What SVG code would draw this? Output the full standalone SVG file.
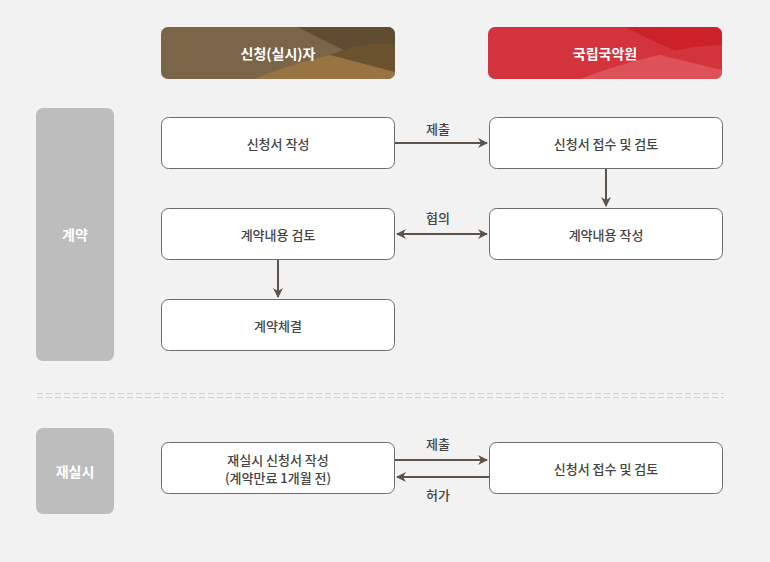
<svg xmlns="http://www.w3.org/2000/svg" width="770" height="562" viewBox="0 0 770 562">
<style>
text{font-family:"Noto Sans CJK KR","Noto Sans",sans-serif;text-anchor:middle;dominant-baseline:central}
.box{fill:#fff;stroke:#6f6a66;stroke-width:1}
.bt{font-size:13px;fill:#444;font-weight:500}
.side{fill:#bdbdbd}
.st{font-size:14px;fill:#fff;font-weight:bold}
.ht{font-size:14px;fill:#fff;font-weight:bold}
.lbl{font-size:13px;fill:#444;font-weight:500}
.c{stroke:#5e534a;stroke-width:2;fill:none}
</style>
<defs>
<marker id="ah" viewBox="0 0 10 10" refX="9" refY="5" markerWidth="5" markerHeight="5" orient="auto-start-reverse"><path d="M0,0 L10,5 L0,10 L3,5 z" fill="#5e534a"/></marker>
<clipPath id="c1"><rect x="161" y="27" width="234" height="52" rx="7"/></clipPath>
<clipPath id="c2"><rect x="488" y="27" width="234" height="52" rx="7"/></clipPath>
</defs>
<rect width="770" height="562" fill="#f2f2f2"/>
<g id="h1" clip-path="url(#c1)">
<rect x="161" y="27" width="234" height="52" fill="#7a6549"/>
<path d="M298,27 L395,27 L395,72 Q340,50 298,27z" fill="#604d31"/>
<path d="M254,79 Q320,52 395,45 L395,79z" fill="#997443"/>
<path d="M330,55 Q365,40 395,45 L395,72z" fill="#6b532f"/>
<text class="ht" x="278" y="53">신청(실시)자</text>
</g>
<g id="h2" clip-path="url(#c2)">
<rect x="488" y="27" width="234" height="52" fill="#d3333c"/>
<path d="M625,27 L722,27 L722,70 Q670,50 625,27z" fill="#cc2129"/>
<path d="M580,79 Q650,52 722,45 L722,79z" fill="#dd5258"/>
<path d="M660,55 Q690,45 722,45 L722,70z" fill="#d3333c"/>
<text class="ht" x="605" y="53">국립국악원</text>
</g>
<g id="s1"><rect class="side" x="36" y="108" width="78" height="253" rx="7"/><text class="st" x="75" y="234">계약</text></g>
<g id="s2"><rect class="side" x="36" y="428" width="78" height="86" rx="7"/><text class="st" x="75" y="471">재실시</text></g>
<g id="n1"><rect class="box" x="161.5" y="117.5" width="233" height="51" rx="7"/><text class="bt" x="278" y="143">신청서 작성</text></g>
<g id="n2"><rect class="box" x="489.5" y="117.5" width="233" height="51" rx="7"/><text class="bt" x="606" y="143">신청서 접수 및 검토</text></g>
<g id="n3"><rect class="box" x="161.5" y="208.5" width="233" height="51" rx="7"/><text class="bt" x="278" y="234">계약내용 검토</text></g>
<g id="n4"><rect class="box" x="489.5" y="208.5" width="233" height="51" rx="7"/><text class="bt" x="606" y="234">계약내용 작성</text></g>
<g id="n5"><rect class="box" x="161.5" y="299.5" width="233" height="51" rx="7"/><text class="bt" x="278" y="325">계약체결</text></g>
<g id="n6"><rect class="box" x="161.5" y="442.5" width="233" height="51" rx="7"/><text class="bt" x="278" y="459">재실시 신청서 작성</text><text class="bt" x="278" y="477.5">(계약만료 1개월 전)</text></g>
<g id="n7"><rect class="box" x="489.5" y="442.5" width="233" height="51" rx="7"/><text class="bt" x="606" y="468">신청서 접수 및 검토</text></g>
<g id="sep" stroke="#d0d0d0" stroke-width="1" stroke-dasharray="6,3"><line x1="37" y1="393.5" x2="724" y2="393.5"/><line x1="37" y1="397.5" x2="724" y2="397.5"/></g>
<g id="connectors">
<line class="c" x1="395" y1="143" x2="487" y2="143" marker-end="url(#ah)"/>
<line class="c" x1="606" y1="169" x2="606" y2="206" marker-end="url(#ah)"/>
<line class="c" x1="397" y1="234" x2="487" y2="234" marker-start="url(#ah)" marker-end="url(#ah)"/>
<line class="c" x1="278" y1="260" x2="278" y2="297" marker-end="url(#ah)"/>
<line class="c" x1="395" y1="460" x2="487" y2="460" marker-end="url(#ah)"/>
<line class="c" x1="489" y1="477" x2="397" y2="477" marker-end="url(#ah)"/>
<text class="lbl" x="438" y="128">제출</text>
<text class="lbl" x="438" y="217">협의</text>
<text class="lbl" x="438" y="443">제출</text>
<text class="lbl" x="438" y="494">허가</text>
</g>
</svg>
